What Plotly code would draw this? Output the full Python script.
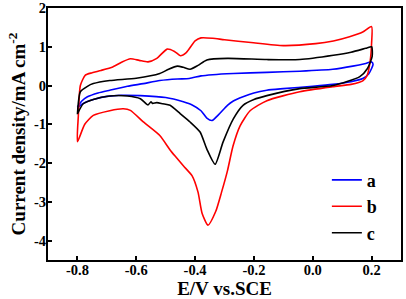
import plotly.graph_objects as go

# Curve a (blue)
E_a = [-0.80, -0.785, -0.766, -0.73, -0.69, -0.63, -0.576, -0.52, -0.46, -0.42, -0.38, -0.34, -0.27, -0.156,
       -0.044, 0.068, 0.136, 0.18, 0.20, 0.205, 0.20, 0.19, 0.17, 0.13, 0.068, 0.0, -0.10, -0.156, -0.20,
       -0.237, -0.27, -0.29, -0.32, -0.342, -0.36, -0.38, -0.41, -0.44, -0.50, -0.586, -0.65, -0.70,
       -0.746, -0.78, -0.80]
J_a = [-0.55, -0.40, -0.29, -0.19, -0.12, -0.02, 0.05, 0.13, 0.17, 0.18, 0.25, 0.28, 0.31, 0.34,
       0.37, 0.42, 0.50, 0.57, 0.61, 0.55, 0.44, 0.30, 0.18, 0.10, 0.03, -0.02, -0.08, -0.12, -0.19,
       -0.29, -0.40, -0.51, -0.75, -0.90, -0.84, -0.65, -0.50, -0.42, -0.31, -0.26, -0.25, -0.28,
       -0.36, -0.46, -0.58]

# Curve b (red)
E_b = [-0.80, -0.797, -0.79, -0.773, -0.75, -0.72, -0.68, -0.65, -0.62, -0.59, -0.56, -0.53, -0.495,
       -0.47, -0.45, -0.43, -0.40, -0.38, -0.34, -0.30, -0.21, -0.10, 0.01, 0.07, 0.125, 0.17, 0.20,
       0.20, 0.195, 0.185, 0.17, 0.13, 0.068, -0.044, -0.156, -0.213, -0.247, -0.271, -0.29, -0.31,
       -0.33, -0.356, -0.376, -0.39, -0.41, -0.44, -0.468, -0.485, -0.52, -0.576, -0.62, -0.644,
       -0.69, -0.746, -0.775, -0.80]
J_b = [-1.45, -0.80, 0.00, 0.27, 0.33, 0.39, 0.48, 0.60, 0.69, 0.65, 0.61, 0.70, 0.94,
       0.88, 0.77, 0.85, 1.15, 1.23, 1.22, 1.18, 1.11, 1.03, 1.08, 1.15, 1.26, 1.38, 1.52,
       1.09, 0.62, 0.26, 0.12, 0.03, -0.03, -0.16, -0.39, -0.65, -1.04, -1.56, -2.20, -2.75,
       -3.25, -3.60, -3.30, -2.75, -2.33, -2.07, -1.82, -1.66, -1.29, -0.94, -0.64, -0.60,
       -0.65, -0.77, -1.00, -1.45]

# Curve c (black)
E_c = [-0.80, -0.79, -0.766, -0.746, -0.69, -0.60, -0.52, -0.49, -0.46, -0.44, -0.417, -0.39, -0.36,
       -0.29, -0.156, -0.044, 0.07, 0.13, 0.18, 0.20, 0.202, 0.186, 0.16, 0.068, -0.044, -0.156,
       -0.20, -0.237, -0.27, -0.305, -0.332, -0.36, -0.383, -0.417, -0.45, -0.485, -0.51, -0.53,
       -0.545, -0.55, -0.56, -0.586, -0.63, -0.69, -0.746, -0.78, -0.80]
J_c = [-0.74, -0.16, -0.02, 0.05, 0.13, 0.19, 0.31, 0.42, 0.50, 0.47, 0.42, 0.52, 0.66,
       0.70, 0.67, 0.67, 0.78, 0.86, 0.96, 1.00, 0.75, 0.44, 0.23, 0.00, -0.08, -0.26,
       -0.36, -0.51, -0.86, -1.46, -2.03, -1.64, -1.20, -0.94, -0.73, -0.51, -0.47, -0.44,
       -0.46, -0.42, -0.50, -0.34, -0.27, -0.27, -0.36, -0.47, -0.73]

series = [("a", E_a, J_a, "#0000ff"), ("b", E_b, J_b, "#ff0000"), ("c", E_c, J_c, "#000000")]

x_ticks = [-0.8, -0.6, -0.4, -0.2, 0.0, 0.2]
x_ticktext = ["-0.8", "-0.6", "-0.4", "-0.2", "0.0", "0.2"]
y_ticks = [-4, -3, -2, -1, 0, 1, 2]
y_ticktext = ["-4", "-3", "-2", "-1", "0", "1", "2"]

fig = go.Figure()
for name, E, J, col in series:
    fig.add_trace(go.Scatter(x=E, y=J, mode="lines", name=name, legendgroup=name,
                             line=dict(color=col, width=1.6, shape="spline", smoothing=0.6)))

font_family = "Liberation Serif"
fig.update_layout(
    width=406, height=299,
    margin=dict(l=48, r=5, t=8, b=39),
    plot_bgcolor="white", paper_bgcolor="white",
    showlegend=True,
    legend=dict(x=0.79, y=0.39, xanchor="left", yanchor="top",
                font=dict(family=font_family, size=18, color="black", weight="bold"),
                bgcolor="rgba(0,0,0,0)", tracegroupgap=0, itemwidth=30),
    xaxis=dict(range=[-0.9, 0.3], tickvals=x_ticks, ticktext=x_ticktext, automargin=False,
               ticks="inside", ticklen=4, tickwidth=1.5, tickcolor="black", ticklabelstandoff=-4,
               showline=True, linecolor="black", linewidth=2, mirror=True, showgrid=False, zeroline=False,
               tickfont=dict(family=font_family, size=14.5, color="black", weight="bold"),
               title=dict(text="E/V vs.SCE", standoff=0,
                          font=dict(family=font_family, size=19, color="black", weight="bold"))),
    yaxis=dict(range=[-4.5, 2.0], tickvals=y_ticks, ticktext=y_ticktext, automargin=False,
               ticks="inside", ticklen=4, tickwidth=1.5, tickcolor="black", ticklabelstandoff=-3,
               showline=True, linecolor="black", linewidth=2, mirror=True, showgrid=False, zeroline=False,
               tickfont=dict(family=font_family, size=14.5, color="black", weight="bold"),
               title=dict(text="Current density/mA cm<sup>-2</sup>", standoff=3,
                          font=dict(family=font_family, size=19, color="black", weight="bold"))),
)

fig.write_html("out.html", config={"displayModeBar": False},
               post_script="document.body.style.margin='0px';document.body.style.padding='0px';")
